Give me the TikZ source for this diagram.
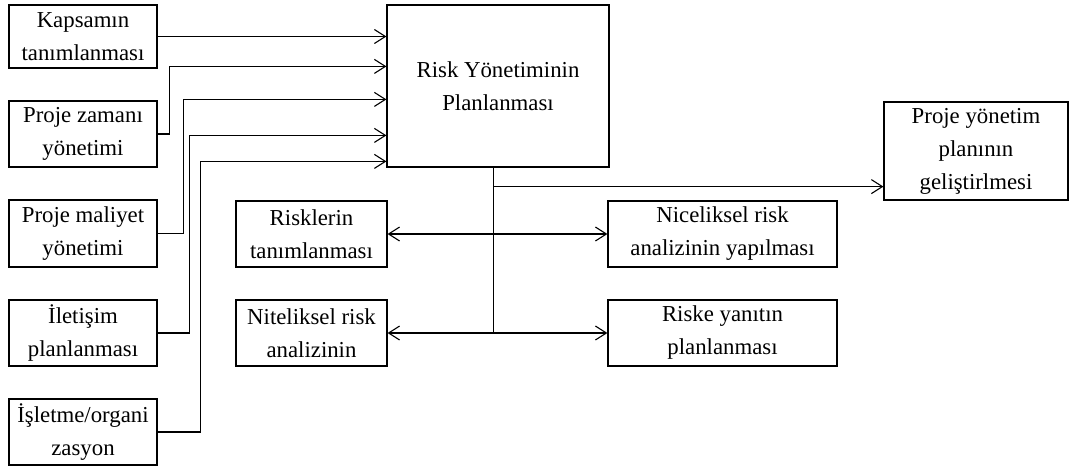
\documentclass[tikz,border=0pt]{standalone}
\usepackage{fontspec}
\setmainfont{Liberation Serif}
\usetikzlibrary{arrows.meta,calc}
\begin{document}
\begin{tikzpicture}[x=1pt,y=-1pt,
  box/.style={draw,line width=1.2pt,rectangle,inner sep=0pt,align=center,
    font=\fontsize{22.8}{33}\selectfont},
  conn/.style={line width=1.2pt},
  arr/.style={conn,-{Straight Barb[length=11pt,width=14pt,line width=1.1pt]}}]
\useasboundingbox (0,0) rectangle (1070,469);
% left column
\node[box,minimum width=148pt,minimum height=63pt] (kap) at (83,36.5) {Kapsamın\\tanımlanması};
\node[box,minimum width=148pt,minimum height=66pt] (zam) at (83,134) {Proje zamanı\\yönetimi};
\node[box,minimum width=148pt,minimum height=67pt] (mal) at (83,233.5) {Proje maliyet\\yönetimi};
\node[box,minimum width=148pt,minimum height=66pt] (ilt) at (83,333) {İletişim\\planlanması};
\node[box,minimum width=148pt,minimum height=66pt] (isl) at (83,432) {İşletme/organi\\zasyon};
% main
\node[box,minimum width=222pt,minimum height=162pt] (main) at (498,86) {Risk Yönetiminin\\Planlanması};
% middle/right
\node[box,minimum width=151pt,minimum height=66pt] (ris) at (311.5,234) {Risklerin\\tanımlanması};
\node[box,minimum width=151pt,minimum height=66pt] (nit) at (311.5,333) {Niteliksel risk\\analizinin};
\node[box,minimum width=229pt,minimum height=66pt] (nic) at (722.5,234) {Niceliksel risk\\analizinin yapılması};
\node[box,minimum width=229pt,minimum height=66pt] (rsk) at (722.5,333) {Riske yanıtın\\planlanması};
\node[box,minimum width=184pt,minimum height=98pt] (pyg) at (976,151) {Proje yönetim\\planının\\geliştirlmesi};
% inputs to main
\draw[arr] (kap.east) -- (kap.east -| main.west);
\draw[arr] (zam.east) -- ++(12,0) |- ($(main.north west)+(0,62)$);
\draw[arr] (mal.east) -- ++(26,0) |- ($(main.north west)+(0,95)$);
\draw[arr] (ilt.east) -- ++(32,0) |- ($(main.north west)+(0,131)$);
\draw[arr] (isl.east) -- ++(43,0) |- ($(main.north west)+(0,157)$);
% trunk
\coordinate (t) at ($(main.south west)+(107,0)$);
\coordinate (p) at ($(pyg.south west)+(0,-14)$);
\draw[conn] (t) -- (t |- nit.east);
\draw[arr] (t |- p) -- (p);
\draw[arr] (t |- ris.east) -- (ris.east);
\draw[arr] (t |- nic.west) -- (nic.west);
\draw[arr] (t |- nit.east) -- (nit.east);
\draw[arr] (t |- rsk.west) -- (rsk.west);
\end{tikzpicture}
\end{document}
